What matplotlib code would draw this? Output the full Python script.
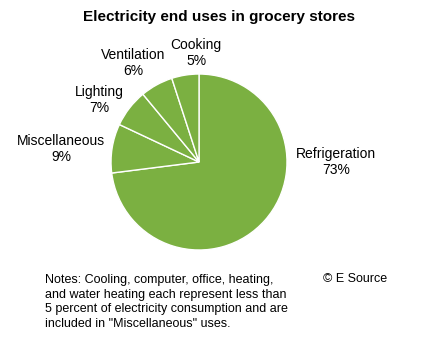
import matplotlib
matplotlib.use('Agg')
import matplotlib.pyplot as plt

plt.rcParams['font.family'] = ['Liberation Sans', 'DejaVu Sans']

categories = ['Refrigeration', 'Miscellaneous', 'Lighting', 'Ventilation', 'Cooking']
shares = [73, 9, 7, 6, 5]
# label centres in pie units (radius = 1)
label_pos = [(1.557, 0.0), (-1.568, 0.148), (-1.136, 0.705), (-0.75, 1.125), (-0.034, 1.239)]

green = '#7BB041'

fig = plt.figure(figsize=(4.21, 3.40), dpi=100)
ax = fig.add_axes([0.2637, 0.2647, 0.418, 0.5176])
ax.pie(shares, startangle=90, counterclock=False, colors=[green] * len(shares),
       wedgeprops={'edgecolor': 'white', 'linewidth': 1.0})
ax.set_xlim(-1, 1)
ax.set_ylim(-1, 1)
ax.set_aspect('auto')
ax.axis('off')

for cat, val, (x, y) in zip(categories, shares, label_pos):
    ax.text(x, y, '%s\n%d%%' % (cat, val), ha='center', va='center',
            fontsize=10, linespacing=1.25, clip_on=False)

fig.text(219 / 421, 1 - 17 / 340, 'Electricity end uses in grocery stores',
         ha='center', va='center', fontsize=11, fontweight='bold')

notes = ('Notes: Cooling, computer, office, heating,\n'
         'and water heating each represent less than\n'
         '5 percent of electricity consumption and are\n'
         'included in "Miscellaneous" uses.')
fig.text(45 / 421, 1 - 274 / 340, notes, ha='left', va='top', fontsize=9, linespacing=1.28)
fig.text(323 / 421, 1 - 279 / 340, '\u00a9 E Source', ha='left', va='center', fontsize=9)

fig.savefig('out.png', dpi=100)
